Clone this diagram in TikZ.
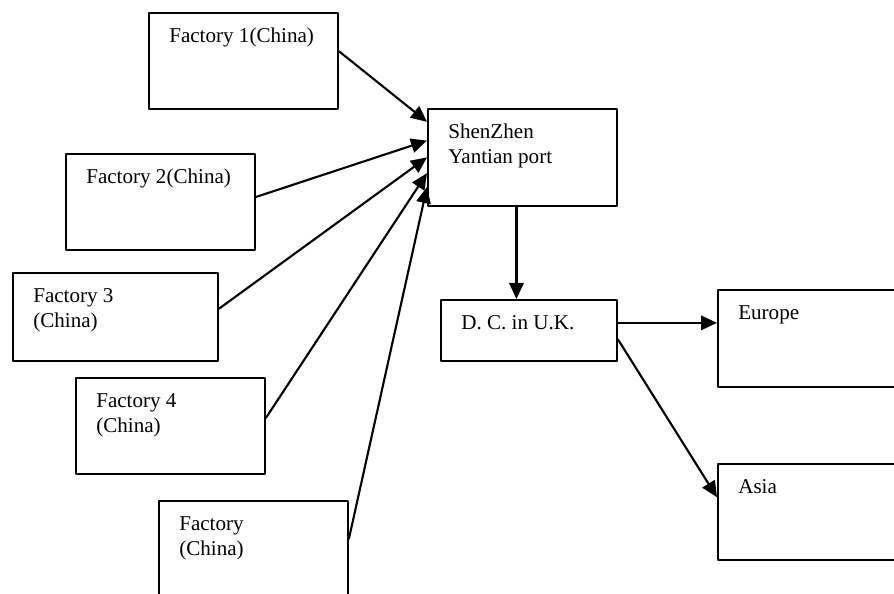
\documentclass[tikz,border=0pt]{standalone}
\usepackage{fontspec}
\setmainfont{Liberation Serif}
\usetikzlibrary{arrows.meta,calc}
\begin{document}
\begin{tikzpicture}[line join=round, >={Triangle[length=4mm,width=3.6mm]},
	box/.style={draw, line width=1.3pt, inner sep=0pt, minimum width=4.725cm, minimum height=2.4cm, anchor=north west},
	txt/.style={anchor=north west, inner sep=0pt, align=left, font=\fontsize{15}{17.8}\selectfont},
	arr/.style={->, line width=1.5pt}]
	\useasboundingbox (0,0) rectangle (22.35,-14.85);
	\clip (0,0) rectangle (22.35,-14.85);
	%Cac nha may
	\node[box] (f1) at (3.70,-0.30) {};
	\node[box] (f2) at (1.625,-3.825) {};
	\node[box, minimum width=5.125cm, minimum height=2.2cm] (f3) at (0.30,-6.80) {};
	\node[box] (f4) at (1.875,-9.425) {};
	\node[box] (f5) at (3.95,-12.50) {};
	%Cang, kho va thi truong
	\node[box, minimum height=2.425cm] (sz) at (10.675,-2.70) {};
	\node[box, minimum width=4.40cm, minimum height=1.525cm] (dc) at (11.00,-7.475) {};
	\node[box, minimum height=2.425cm] (eu) at (17.925,-7.225) {};
	\node[box] (as) at (17.925,-11.575) {};
	
	\node[txt] (t1) at ([shift={(.525,-.4)}]f1.north west) {Factory 1(China)};
	\node[txt] (t2) at ([shift={(.525,-.4)}]f2.north west) {Factory 2(China)};
	\node[txt] (t3) at ([shift={(.525,-.4)}]f3.north west) {Factory 3\\(China)};
	\node[txt] (t4) at ([shift={(.525,-.4)}]f4.north west) {Factory 4\\(China)};
	\node[txt] (t5) at ([shift={(.525,-.4)}]f5.north west) {Factory\\(China)};
	\node[txt] (tsz) at ([shift={(.525,-.4)}]sz.north west) {ShenZhen\\Yantian port};
	\node[txt] (tdc) at ([shift={(.525,-.4)}]dc.north west) {D. C. in U.K.};
	\node[txt] (teu) at ([shift={(.525,-.4)}]eu.north west) {Europe};
	\node[txt] (tas) at ([shift={(.525,-.4)}]as.north west) {Asia};
	
	%Mui ten
	\draw[arr] ($(f1.north east)!.4!(f1.south east)$) -- ($(sz.north west)!.14!(sz.south west)$);
	\draw[arr] ($(f2.north east)!.45!(f2.south east)$) -- ($(sz.north west)!.33!(sz.south west)$);
	\draw[arr] ($(f3.north east)!.41!(f3.south east)$) -- ($(sz.north west)!.5!(sz.south west)$);
	\draw[arr] ($(f4.north east)!.42!(f4.south east)$) -- ($(sz.north west)!.66!(sz.south west)$);
	\draw[arr] ($(f5.north east)!.4!(f5.south east)$) -- ($(sz.north west)!.8!(sz.south west)$);
	\coordinate (dctop) at ($(dc.north west)!.43!(dc.north east)$);
	\draw[arr] (sz.south -| dctop) -- (dctop);
	\coordinate (dceu) at ($(dc.north east)!.38!(dc.south east)$);
	\draw[arr] (dceu) -- (dceu -| eu.west);
	\draw[arr] ($(dc.north east)!.64!(dc.south east)$) -- ($(as.north west)!.35!(as.south west)$);
\end{tikzpicture}
\end{document}
